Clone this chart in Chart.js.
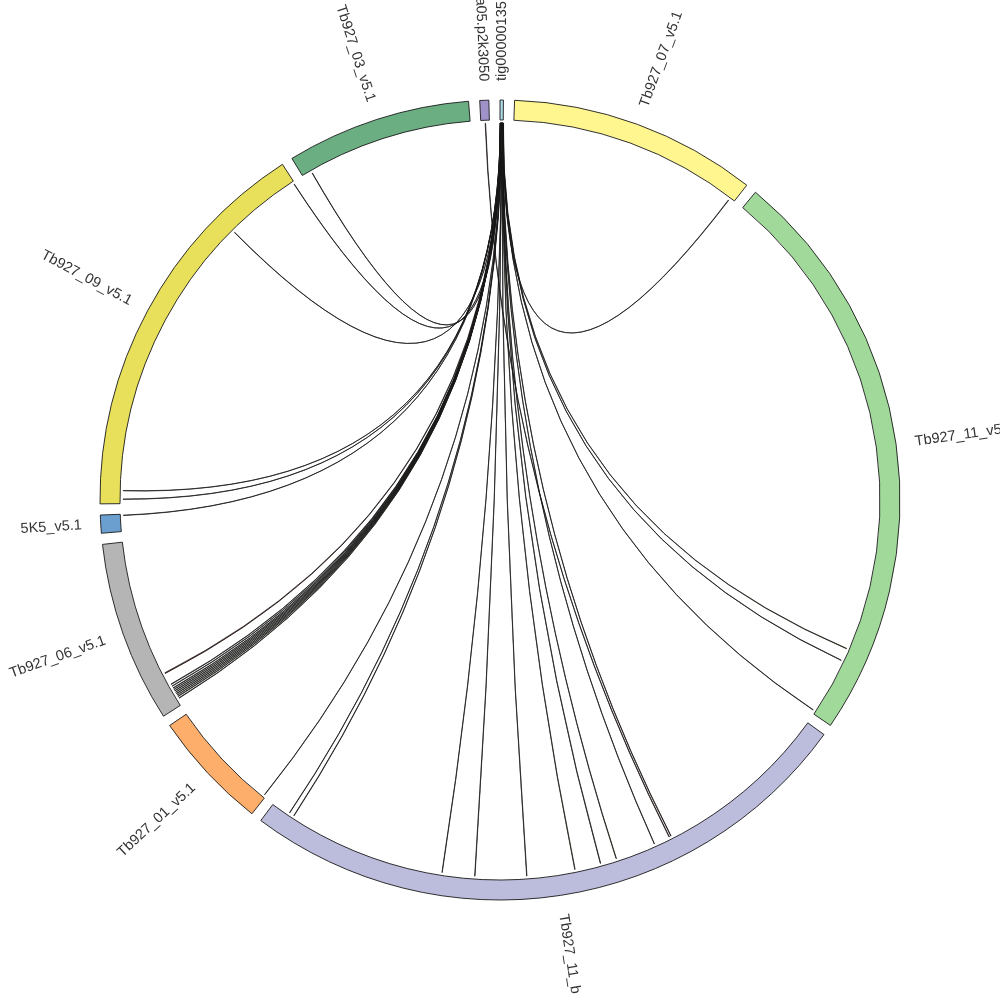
<!DOCTYPE html>
<html><head><meta charset="utf-8">
<script src="https://cdn.jsdelivr.net/npm/chart.js@4.4.1/dist/chart.umd.min.js"></script>
<style>html,body{margin:0;padding:0;background:#fff}#wrap{width:1000px;height:1000px;position:relative}</style>
</head><body><div id="wrap"><canvas id="c"></canvas></div>
<script>
// ---- segments (clockwise from the top) ----
const segmentNames = ['tig00000135','Tb927_07_v5.1','Tb927_11_v5.1','Tb927_11_b','Tb927_01_v5.1','Tb927_06_v5.1','5K5_v5.1','Tb927_09_v5.1','Tb927_03_v5.1','a05.p2k3050'];
const segmentLengths = [0.03, 2.20, 5.17, 5.55, 1.06, 1.61, 0.16, 3.52, 1.64, 0.08]; // Mb
const segmentColors = ['#add8e6','#fff68f','#a1d99b','#bcbddc','#fdae6b','#b5b5b5','#6b9fcf','#e8e05a','#6aae82','#9e92c8'];

// ---- chords (segment index, position in Mb) ----
const chordSource    = [0,0,0,0,0,9,0,0,0,0,0,0,0,0,0,0, 0,0,0,0,0,0,0,0,0,0,0, 0,0,0,0,0,0];
const chordSourcePos = [0.029,0.027,0.026,0.025,0.024,0.04,0.023,0.022,0.021,0.020,0.019,0.018,0.017,0.016,0.0155,0.015,
                        0.014,0.013,0.012,0.011,0.010,0.009,0.008,0.007,0.006,0.005,0.0045, 0.004,0.003,0.0028,0.002,0.0015,0.001];
const chordTarget    = [1,2,2,2,3,3,3,3,3,3,3,3,3,3,3,4, 5,5,5,5,5,5,5,5,5,5,5, 6,7,7,7,7,8];
const chordTargetPos = [2.15,4.49,4.61,5.14,1.656,1.674,1.827,2.206,2.359,2.603,3.055,3.538,3.844,5.328,5.377,0.016,
                        0.062,0.08,0.095,0.11,0.125,0.14,0.155,0.17,0.19,0.21,0.325, 0.148,0.04,0.119,2.796,3.51,0.089];
const chordWidth     = [0.004,0.004,0.003,0.003,0.004,0.004,0.003,0.004,0.004,0.004,0.003,0.003,0.003,0.004,0.003,0.003,
                        0.004,0.004,0.004,0.004,0.004,0.004,0.004,0.004,0.004,0.004,0.008, 0.003,0.003,0.003,0.003,0.003,0.003];
const chordColor     = ['#3a5a6a','#7d7530','#2a2a3a','#222222','#6b2a1a','#6b2a1a','#333333','#6f6a2a','#4a4a66','#7d7530','#555555','#2f4a3a','#333333','#5a3020','#2a3a4a','#444466',
                        '#2f4a3a','#5a3020','#6f6a2a','#333333','#2f5a3a','#4a4a66','#7d7530','#333333','#555555','#2a3a4a','#5a1a10', '#333333','#333333','#555555','#333333','#5a3020','#333333'];

const GAP_DEG = 1.6;
const total = segmentLengths.reduce((a, b) => a + b, 0);
const gapValue = total * GAP_DEG / (360 - GAP_DEG * segmentLengths.length);
const ringData = [], ringColors = [], ringBorders = [], ringLabels = [];
segmentLengths.forEach((v, i) => {
  ringData.push(v, gapValue);
  ringColors.push(segmentColors[i], 'rgba(0,0,0,0)');
  ringBorders.push(0.9, 0);
  ringLabels.push(segmentNames[i], '');
});

const chordPlugin = {
  id: 'chords',
  afterDatasetsDraw(chart) {
    const arcs = chart.getDatasetMeta(0).data;
    const ctx = chart.ctx;
    const seg = i => arcs[i * 2];
    const angleAt = (si, pos) => { const a = seg(si); return a.startAngle + (a.endAngle - a.startAngle) * pos / segmentLengths[si]; };
    ctx.save();
    for (let k = 0; k < chordSource.length; k++) {
      const s = seg(chordSource[k]);
      const cx = s.x, cy = s.y, r = s.innerRadius - 3;
      const s0 = angleAt(chordSource[k], chordSourcePos[k]);
      const s1 = angleAt(chordSource[k], chordSourcePos[k] + chordWidth[k]);
      const t0 = angleAt(chordTarget[k], chordTargetPos[k]);
      const t1 = angleAt(chordTarget[k], chordTargetPos[k] + chordWidth[k]);
      ctx.beginPath();
      ctx.moveTo(cx + r * Math.cos(s0), cy + r * Math.sin(s0));
      ctx.arc(cx, cy, r, s0, s1);
      ctx.quadraticCurveTo(cx, cy, cx + r * Math.cos(t0), cy + r * Math.sin(t0));
      ctx.arc(cx, cy, r, t0, t1);
      ctx.quadraticCurveTo(cx, cy, cx + r * Math.cos(s0), cy + r * Math.sin(s0));
      ctx.closePath();
      ctx.fillStyle = chordColor[k];
      ctx.fill();
      ctx.strokeStyle = '#151515';
      ctx.lineWidth = 0.7;
      ctx.stroke();
    }
    // labels
    ctx.font = '14.5px "Liberation Sans"';
    ctx.fillStyle = '#333';
    ctx.textBaseline = 'middle';
    segmentNames.forEach((name, i) => {
      const a = seg(i);
      const mid = (a.startAngle + a.endAngle) / 2;
      const R = a.outerRadius + 19;
      let theta = (mid + Math.PI / 2) % (2 * Math.PI);
      if (theta < 0) theta += 2 * Math.PI;
      ctx.save();
      ctx.translate(a.x + R * Math.cos(mid), a.y + R * Math.sin(mid));
      if (theta < Math.PI) { ctx.rotate(mid); ctx.textAlign = 'left'; }
      else { ctx.rotate(mid + Math.PI); ctx.textAlign = 'right'; }
      ctx.fillText(name, 0, 0);
      ctx.restore();
    });
    ctx.restore();
  }
};

new Chart(document.getElementById('c'), {
  type: 'doughnut',
  data: {
    labels: ringLabels,
    datasets: [{
      data: ringData,
      backgroundColor: ringColors,
      borderColor: '#1a1a1a',
      borderWidth: ringBorders,
      borderJoinStyle: 'miter'
    }]
  },
  options: {
    responsive: true,
    maintainAspectRatio: false,
    animation: false,
    radius: 400,
    cutout: '95%',
    rotation: 0,
    layout: { padding: 0 },
    plugins: { legend: { display: false }, tooltip: { enabled: false } }
  },
  plugins: [chordPlugin]
});
</script>
</body></html>
